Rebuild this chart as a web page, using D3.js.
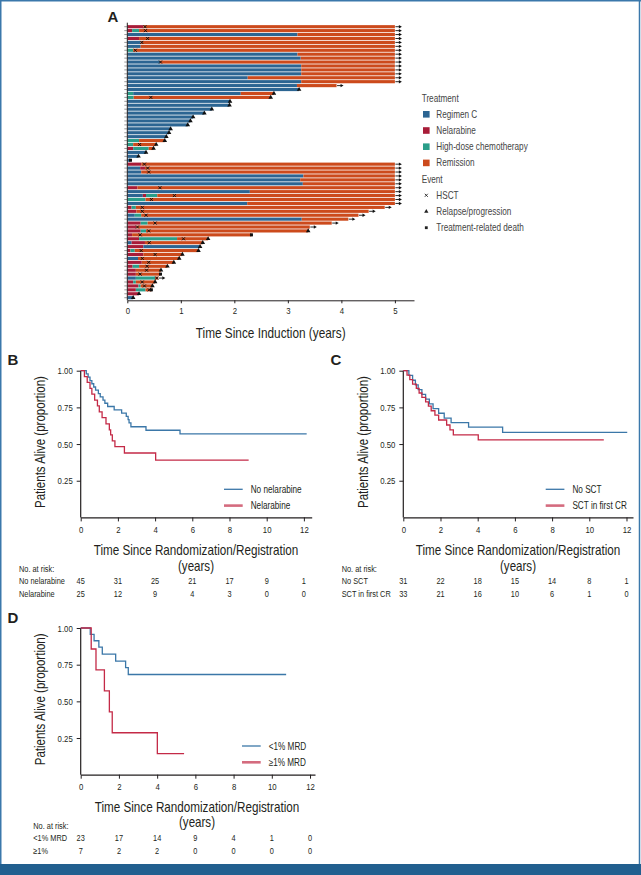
<!DOCTYPE html>
<html><head><meta charset="utf-8">
<script src="https://cdn.jsdelivr.net/npm/d3@7"></script>
<style>body{margin:0;background:#fff}svg{display:block}</style>
</head><body>
<svg id="c" width="641" height="875"></svg>
<script>
// ---------------- Panel A data ----------------
const phaseCodes = ["R", "N", "H", "M"];
const phaseNames = ["Regimen C", "Nelarabine", "High-dose chemotherapy", "Remission"];
const phaseColors = ["#2c6592", "#a81c38", "#2a9e89", "#cc4a1c"];
const eventNames = ["HSCT", "Relapse/progression", "Treatment-related death"];
const timeTicksA = [0, 1, 2, 3, 4, 5];
// each row: list of [phase, end time (years)], phases are consecutive from 0
const swimSegments = [
  [["N",0.30],["M",5]], [["N",0.09],["H",0.22],["M",5]], [["R",3.18],["M",5]], [["N",0.22],["M",5]],
  [["R",0.25],["M",5]], [["R",0.25],["M",5]], [["H",0.11],["M",5]], [["R",3.18],["M",5]],
  [["R",3.24],["M",5]], [["R",0.61],["M",5]], [["R",3.25],["M",5]], [["R",3.25],["M",5]],
  [["R",3.25],["M",5]], [["R",2.25],["M",5]], [["R",3.25],["M",5]], [["R",3.17],["M",3.91]],
  [["R",3.21]], [["H",0.11],["R",2.12],["M",2.74]], [["H",0.12],["M",2.68]], [["R",1.92]],
  [["R",1.91]], [["R",1.58]], [["R",1.44]], [["R",1.23]], [["R",1.18]], [["R",1.13]],
  [["R",0.81]], [["R",0.78]], [["R",0.73]], [["H",0.22],["M",0.70]], [["H",0.11],["M",0.54]],
  [["N",0.11],["H",0.40],["M",0.49]], [["R",0.35]], [["R",0.21]], [["R",0.06]],
  [["N",0.26],["M",5]], [["R",0.24],["N",0.33],["M",5]], [["R",0.26],["M",5]], [["R",3.29],["M",5]],
  [["R",3.23],["M",5]], [["R",3.28],["M",5]], [["N",0.19],["M",5]], [["R",2.29],["M",5]],
  [["R",0.29],["N",0.35],["H",0.56],["M",5]], [["H",0.34],["M",5]], [["R",2.24],["M",5]],
  [["N",0.08],["H",0.16],["M",4.81]], [["N",0.17],["M",4.51]], [["R",0.14],["H",0.26],["M",4.32]],
  [["R",3.26],["M",4.13]], [["N",0.25],["H",0.38],["M",3.82]], [["N",0.17],["M",3.41]],
  [["N",0.25],["H",0.35],["M",3.38]], [["N",0.09],["M",2.32]], [["N",0.22],["H",0.93],["M",1.51]],
  [["R",0.08],["N",0.33],["M",1.41]], [["N",0.30],["R",1.36]], [["N",0.06],["H",0.14],["M",1.33]],
  [["N",0.30],["M",1.03]], [["R",0.20],["M",0.97]], [["N",0.27],["M",0.87]],
  [["N",0.10],["H",0.22],["M",0.75]], [["N",0.16],["M",0.63]], [["N",0.16],["M",0.62]],
  [["R",0.16],["H",0.52],["M",0.58]], [["N",0.11],["H",0.16],["M",0.52]],
  [["N",0.21],["H",0.25],["M",0.47]], [["N",0.16],["H",0.34],["M",0.45]], [["N",0.22]], [["R",0.11]]
];
const swimHSCT = [
  0.33,0.34,null,0.38,0.27,null,0.15,null,null,0.62,null,null,null,null,null,null,null,null,0.44,null,
  null,null,null,null,null,null,null,null,null,null,0.23,null,null,null,null,
  0.32,0.38,0.40,null,null,null,0.61,null,0.88,0.45,null,0.28,0.28,0.35,null,0.52,0.19,0.40,0.24,1.05,
  0.41,null,0.26,0.52,0.28,0.40,0.37,0.36,0.24,0.55,0.28,0.32,0.41,null,null
];
// A = ongoing (arrow), R = relapse/progression, D = treatment-related death
const swimEnd = [
  "A","A","A","A","A","A","A","A","A","A","A","A","A","A","A","A","R","R","R","R",
  "R","R","R","R","R","R","R","R","R","R","R","R","R","R","D",
  "A","A","A","A","A","A","A","A","A","A","A","A","A","A","A","A","A","R","D","R",
  "R","R","R","R","R","R","R","R","D","A","R","R","D","R","R"
];

// ---------------- KM data ----------------
const kmTicksX = [0, 2, 4, 6, 8, 10, 12];
const kmTicksY = [0.25, 0.5, 0.75, 1.0];
const bNoNelTime = [0,0.3,0.4,0.5,0.6,0.7,0.8,0.95,1.05,1.2,1.3,1.45,1.8,2.2,2.45,2.55,2.6,2.7,3.51,5.34];
const bNoNelSurv = [1,0.978,0.956,0.933,0.911,0.889,0.867,0.844,0.822,0.800,0.778,0.756,0.733,0.711,0.689,0.667,0.644,0.618,0.594,0.569];
const bNoNelEnd = 12.15;
const bNelTime = [0,0.2,0.35,0.5,0.6,0.75,0.9,1.0,1.15,1.36,1.54,1.61,1.70,1.84,2.35,4.03];
const bNelSurv = [1,0.96,0.92,0.88,0.84,0.80,0.76,0.72,0.68,0.637,0.596,0.562,0.521,0.482,0.439,0.391];
const bNelEnd = 9.03;
const cNoSctTime = [0,0.3,0.5,0.65,0.8,1.0,1.2,1.4,1.6,1.9,2.2,2.57,3.51,5.34];
const cNoSctSurv = [1,0.968,0.935,0.903,0.871,0.839,0.806,0.774,0.742,0.710,0.677,0.646,0.615,0.580];
const cNoSctEnd = 12.04;
const cSctTime = [0,0.2,0.35,0.5,0.7,0.85,1.0,1.2,1.35,1.5,1.7,1.9,2.33,2.51,2.69,4.03];
const cSctSurv = [1,0.970,0.939,0.909,0.879,0.848,0.818,0.788,0.758,0.727,0.697,0.664,0.630,0.596,0.562,0.528];
const cSctEnd = 10.78;
const dLowTime = [0,0.5,0.7,0.95,1.13,1.83,2.35,2.49];
const dLowSurv = [1,0.957,0.913,0.870,0.822,0.774,0.730,0.683];
const dLowEnd = 10.75;
const dHighTime = [0,0.55,0.80,1.24,1.50,1.65,4.01];
const dHighSurv = [1,0.857,0.714,0.571,0.428,0.286,0.143];
const dHighEnd = 5.41;
// risk tables
const riskB = [["No nelarabine",[45,31,25,21,17,9,1]],["Nelarabine",[25,12,9,4,3,0,0]]];
const riskC = [["No SCT",[31,22,18,15,14,8,1]],["SCT in first CR",[33,21,16,10,6,1,0]]];
const riskD = [["<1% MRD",[23,17,14,9,4,1,0]],["\u22651%",[7,2,2,0,0,0,0]]];

// ---------------- rendering ----------------
const svg = d3.select("#c");
const INK = "#231f20";
const BLUE = "#3b77a8", RED = "#c42a47";

function measure(fam, str){
  const t = svg.append("text").attr("font-family", fam).attr("font-size", 20).text(str);
  const w = t.node().getComputedTextLength(); t.remove(); return w;
}
const wN = measure("'Liberation Sans Narrow'", "Time Since Randomization");
const wR = measure("'Liberation Sans'", "Time Since Randomization");
const hasNarrow = wN < wR * 0.9;
const FAM = hasNarrow ? "'Liberation Sans Narrow', 'Liberation Sans', Arial, sans-serif" : "'Liberation Sans', Arial, sans-serif";
const SX = hasNarrow ? 1 : 0.82;
// condense axis tick labels horizontally
function condense(sel){
  if (SX === 1) return;
  sel.each(function(){
    const t = d3.select(this);
    const x = +(t.attr("x") || 0);
    t.attr("x", x / SX).attr("transform", `scale(${SX},1)`);
  });
}
function txt(x, y, s, size, anchor, opts = {}){
  const t = svg.append("text").attr("x", 0).attr("y", 0).attr("dy", "0.35em")
    .attr("font-family", opts.bold ? "'Liberation Sans', Arial, sans-serif" : FAM)
    .attr("font-size", size).attr("text-anchor", anchor || "start")
    .attr("fill", opts.fill || INK).attr("font-weight", opts.bold ? "bold" : null).text(s);
  let sx = 1;
  if (opts.len) sx = opts.len / t.node().getComputedTextLength();
  else if (!opts.bold) sx = SX;
  const rot = opts.rotate ? " rotate(-90)" : "";
  t.attr("transform", `translate(${x},${y})${rot} scale(${sx},1)`);
  return t;
}

// frame
svg.append("rect").attr("x", 0).attr("y", 0).attr("width", 641).attr("height", 875).attr("fill", "#fff");
svg.append("line").attr("x1", 0.75).attr("x2", 0.75).attr("y1", 0).attr("y2", 864).attr("stroke", "#3b78ab").attr("stroke-width", 1.5);
svg.append("line").attr("x1", 639.5).attr("x2", 639.5).attr("y1", 0).attr("y2", 864).attr("stroke", "#3b78ab").attr("stroke-width", 1.5);
svg.append("line").attr("x1", 0).attr("x2", 641).attr("y1", 0.75).attr("y2", 0.75).attr("stroke", "#3b78ab").attr("stroke-width", 1.5);
svg.append("rect").attr("x", 0).attr("y", 864).attr("width", 641).attr("height", 11).attr("fill", "#215f8f");

// ---------------- Panel A ----------------
const xA = d3.scaleLinear().domain([0, 5.357]).range([127.3, 414]);
const yA = d3.scaleBand().domain(d3.range(swimSegments.length)).range([24.74, 299.66]).paddingInner(0.2).paddingOuter(0.1);
const bw = yA.bandwidth();
const colorOf = d3.scaleOrdinal().domain(phaseCodes).range(phaseColors);

const segs = [];
swimSegments.forEach((row, i) => {
  let s = 0;
  row.forEach(([p, e]) => { segs.push({ i, p, s, e }); s = e; });
});
const gA = svg.append("g");
gA.selectAll("rect.seg").data(segs).join("rect").attr("class", "seg")
  .attr("x", d => xA(d.s)).attr("width", d => xA(d.e) - xA(d.s))
  .attr("y", d => yA(d.i)).attr("height", bw).attr("fill", d => colorOf(d.p));

// axes A
const axYA = gA.append("g").attr("transform", `translate(${xA(0)},0)`)
  .call(d3.axisLeft(yA).tickSize(3).tickSizeOuter(0).tickFormat(""));
axYA.select(".domain").attr("stroke", INK).attr("d", `M0,22.7V300.3`);
axYA.selectAll(".tick line").attr("stroke", "#555").attr("stroke-width", 0.6);
const axXA = gA.append("g").attr("transform", `translate(0,300.3)`)
  .call(d3.axisBottom(xA).tickValues(timeTicksA).tickFormat(d3.format("d")).tickSize(3).tickSizeOuter(0).tickPadding(4));
axXA.select(".domain").attr("stroke", INK);
axXA.selectAll(".tick line").attr("stroke", INK);
axXA.selectAll("text").attr("font-family", FAM).attr("font-size", 9.5).attr("fill", INK);
condense(axXA.selectAll("text"));

// event markers
const ends = swimSegments.map((row, i) => ({ i, t: row[row.length - 1][1], type: swimEnd[i] }));
const cy = i => yA(i) + bw / 2;
gA.selectAll("path.arrow").data(ends.filter(d => d.type === "A")).join("path").attr("class", "arrow")
  .attr("d", d => { const x = xA(d.t), y = cy(d.i); return `M${x + 0.5},${y}H${x + 4.5}`; })
  .attr("stroke", "#111").attr("stroke-width", 0.9);
gA.selectAll("path.arrowhead").data(ends.filter(d => d.type === "A")).join("path").attr("class", "arrowhead")
  .attr("d", d => { const x = xA(d.t), y = cy(d.i); return `M${x + 4},${y - 1.7}L${x + 7},${y}L${x + 4},${y + 1.7}Z`; })
  .attr("fill", "#111");
gA.selectAll("path.rel").data(ends.filter(d => d.type === "R")).join("path").attr("class", "rel")
  .attr("transform", d => `translate(${xA(d.t)},${cy(d.i)})`)
  .attr("d", d3.symbol(d3.symbolTriangle).size(9)).attr("fill", "#111");
gA.selectAll("path.death").data(ends.filter(d => d.type === "D")).join("path").attr("class", "death")
  .attr("transform", d => `translate(${xA(d.t)},${cy(d.i)})`)
  .attr("d", d3.symbol(d3.symbolSquare).size(9)).attr("fill", "#111");
const hsct = swimHSCT.map((t, i) => ({ i, t })).filter(d => d.t !== null);
gA.selectAll("path.hsct").data(hsct).join("path").attr("class", "hsct")
  .attr("transform", d => `translate(${xA(d.t)},${cy(d.i)})`)
  .attr("d", "M-1.5,-1.5L1.5,1.5M-1.5,1.5L1.5,-1.5").attr("stroke", "#111").attr("stroke-width", 1);

txt(270.7, 332.7, "Time Since Induction (years)", 14, "middle", { len: 150 });
txt(113, 17, "A", 15, "middle", { bold: true });

// legend A
const lgx = 421.7;
txt(lgx, 98, "Treatment", 10, "start", { fill: "#444" });
phaseNames.forEach((n, k) => {
  const y = 114.3 + k * 16.2;
  svg.append("rect").attr("x", lgx + 1.3).attr("y", y - 3.3).attr("width", 6.6).attr("height", 6.6).attr("fill", phaseColors[k]);
  txt(lgx + 14.6, y, n, 10, "start", { fill: "#444" });
});
txt(lgx, 179, "Event", 10, "start", { fill: "#444" });
eventNames.forEach((n, k) => {
  const y = 195.3 + k * 16.2, x = lgx + 4.6;
  if (k === 0) svg.append("path").attr("transform", `translate(${x},${y})`).attr("d", "M-1.5,-1.5L1.5,1.5M-1.5,1.5L1.5,-1.5").attr("stroke", "#222").attr("stroke-width", 0.9);
  if (k === 1) svg.append("path").attr("transform", `translate(${x},${y})`).attr("d", d3.symbol(d3.symbolTriangle).size(8)).attr("fill", "#222");
  if (k === 2) svg.append("path").attr("transform", `translate(${x},${y})`).attr("d", d3.symbol(d3.symbolSquare).size(8)).attr("fill", "#222");
  txt(lgx + 14.6, y, n, 10, "start", { fill: "#444" });
});

// ---------------- KM panels ----------------
function kmPanel(cfg){
  const x = d3.scaleLinear().domain([0, cfg.xmax]).range([cfg.x0, cfg.x1]);
  const y = d3.scaleLinear().domain([0, 1]).range([cfg.y0, cfg.y0 - 146.7]);
  const g = svg.append("g");
  const ax = g.append("g").attr("transform", `translate(0,${cfg.y0})`)
    .call(d3.axisBottom(x).tickValues(kmTicksX).tickFormat(d3.format("d")).tickSize(4).tickSizeOuter(0).tickPadding(5));
  const ay = g.append("g").attr("transform", `translate(${cfg.x0},0)`)
    .call(d3.axisLeft(y).tickValues(kmTicksY).tickFormat(d3.format(".2f")).tickSize(4).tickSizeOuter(0).tickPadding(4));
  ay.select(".domain").attr("d", `M0,${y(1)}V${cfg.y0}`);
  [ax, ay].forEach(a => {
    a.select(".domain").attr("stroke", INK).attr("stroke-width", 1.2);
    a.selectAll(".tick line").attr("stroke", INK);
    a.selectAll("text").attr("font-family", FAM).attr("font-size", 9.5).attr("fill", INK);
    condense(a.selectAll("text"));
  });
  const line = d3.line().x(d => x(d[0])).y(d => y(d[1])).curve(d3.curveStepAfter);
  cfg.series.forEach(s => {
    const pts = s.t.map((t, i) => [t, s.s[i]]);
    pts.push([s.end, s.s[s.s.length - 1]]);
    g.append("path").datum(pts).attr("d", line).attr("fill", "none").attr("stroke", s.color).attr("stroke-width", 1.3);
  });
  // legend
  cfg.series.forEach((s, k) => {
    const ly = cfg.legY + k * 16.3;
    g.append("line").attr("x1", cfg.legX).attr("x2", cfg.legX + 18.7).attr("y1", ly).attr("y2", ly)
      .attr("stroke", k === 0 ? BLUE : "#d46b7e").attr("stroke-width", k === 0 ? 1.3 : 2.6);
    txt(cfg.legX + 26.7, ly, s.name, 10, "start");
  });
  // titles
  txt(cfg.ytX, (y(1) + cfg.y0) / 2 - 2, "Patients Alive (proportion)", 14, "middle", { rotate: true, len: 132 });
  txt(cfg.xtX, cfg.xtY, "Time Since Randomization/Registration", 14, "middle", { len: 205 });
  txt(cfg.xtX, cfg.xtY + 15.7, "(years)", 14, "middle", { len: 36 });
  txt(cfg.lab[0], cfg.lab[1], cfg.lab[2], 15, "middle", { bold: true });
  // risk table
  txt(cfg.rx, cfg.ry, "No. at risk:", 9, "start");
  cfg.risk.forEach(([name, vals], k) => {
    const yy = cfg.ry + 12.3 + k * 12.7;
    txt(cfg.rx, yy, name, 9, "start");
    vals.forEach((v, j) => txt(x(kmTicksX[j]), yy, String(v), 9, "middle"));
  });
}

kmPanel({ x0: 80.7, x1: 311.7, xmax: 12.42, y0: 517.4, legX: 224, legY: 489.3,
  series: [
    { t: bNoNelTime, s: bNoNelSurv, end: bNoNelEnd, color: BLUE, name: "No nelarabine" },
    { t: bNelTime, s: bNelSurv, end: bNelEnd, color: RED, name: "Nelarabine" } ],
  ytX: 40, xtX: 196, xtY: 550, lab: [13, 360, "B"], rx: 19, ry: 569, risk: riskB });

kmPanel({ x0: 403.3, x1: 633, xmax: 12.35, y0: 517.4, legX: 545.7, legY: 489.3,
  series: [
    { t: cNoSctTime, s: cNoSctSurv, end: cNoSctEnd, color: BLUE, name: "No SCT" },
    { t: cSctTime, s: cSctSurv, end: cSctEnd, color: RED, name: "SCT in first CR" } ],
  ytX: 363, xtX: 518, xtY: 550, lab: [336, 360, "C"], rx: 341.7, ry: 569, risk: riskC });

kmPanel({ x0: 80.7, x1: 315, xmax: 12.26, y0: 774.7, legX: 242, legY: 746,
  series: [
    { t: dLowTime, s: dLowSurv, end: dLowEnd, color: BLUE, name: "<1% MRD" },
    { t: dHighTime, s: dHighSurv, end: dHighEnd, color: RED, name: "\u22651% MRD" } ],
  ytX: 40, xtX: 197, xtY: 806.7, lab: [13, 618, "D"], rx: 33.3, ry: 825.7, risk: riskD });
</script>
</body></html>
